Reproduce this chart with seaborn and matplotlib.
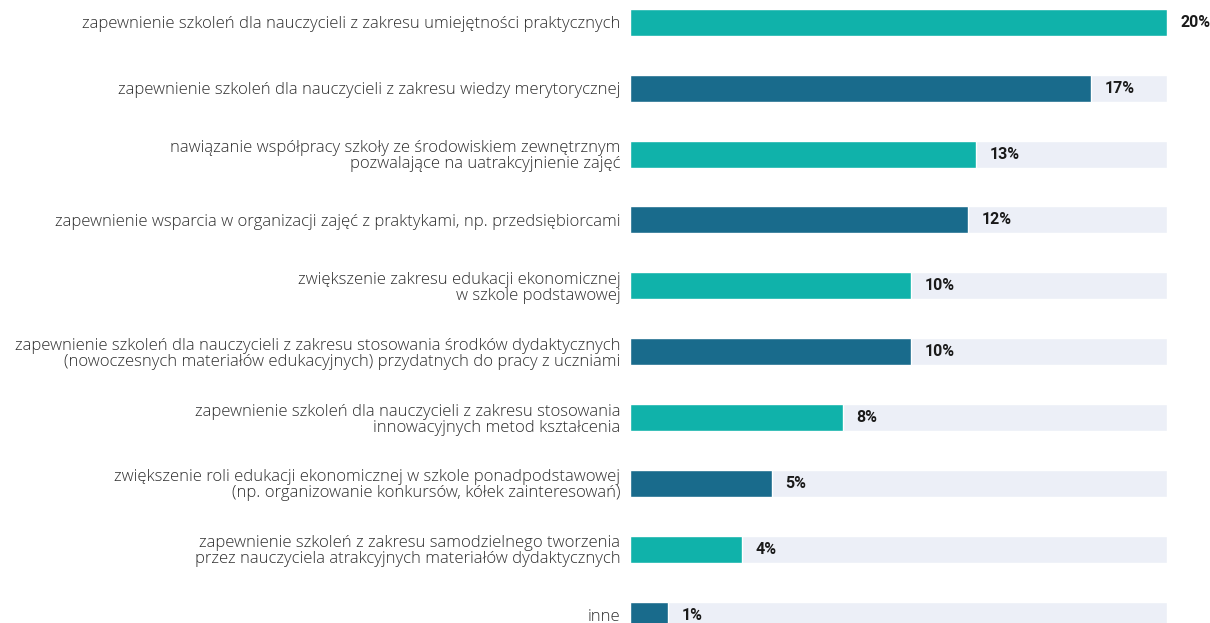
import matplotlib
matplotlib.use("Agg")
import matplotlib.pyplot as plt
import seaborn as sns
import pandas as pd

categories = [
    "zapewnienie szkoleń dla nauczycieli z zakresu umiejętności praktycznych",
    "zapewnienie szkoleń dla nauczycieli z zakresu wiedzy merytorycznej",
    "nawiązanie współpracy szkoły ze środowiskiem zewnętrznym\npozwalające na uatrakcyjnienie zajęć",
    "zapewnienie wsparcia w organizacji zajęć z praktykami, np. przedsiębiorcami",
    "zwiększenie zakresu edukacji ekonomicznej\nw szkole podstawowej",
    "zapewnienie szkoleń dla nauczycieli z zakresu stosowania środków dydaktycznych\n(nowoczesnych materiałów edukacyjnych) przydatnych do pracy z uczniami",
    "zapewnienie szkoleń dla nauczycieli z zakresu stosowania\ninnowacyjnych metod kształcenia",
    "zwiększenie roli edukacji ekonomicznej w szkole ponadpodstawowej\n(np. organizowanie konkursów, kółek zainteresowań)",
    "zapewnienie szkoleń z zakresu samodzielnego tworzenia\nprzez nauczyciela atrakcyjnych materiałów dydaktycznych",
    "inne",
]
values = [19.7, 16.9, 12.7, 12.4, 10.3, 10.3, 7.8, 5.2, 4.1, 1.4]

TEAL = "#10B2AA"
NAVY = "#196B8C"
TRACK = "#ECEFF7"
bar_colors = [TEAL if i % 2 == 0 else NAVY for i in range(len(categories))]

scale_max = max(values)
df = pd.DataFrame({"category": categories, "value": values})
df["track"] = scale_max

sns.set_theme(style="white")
plt.rcParams["font.family"] = ["Open Sans", "DejaVu Sans"]

fig = plt.figure(figsize=(12.10, 6.23), dpi=100)
ax = fig.add_axes([630 / 1210, 0.0, (1167 - 630) / 1210, 1.0])

# light background track behind every bar, then the values on top
sns.barplot(data=df, y="category", x="track", color=TRACK, width=0.41,
            orient="h", ax=ax, saturation=1)
sns.barplot(data=df, y="category", x="value", hue="category",
            palette=bar_colors, width=0.41, orient="h", ax=ax,
            saturation=1, legend=False)

ax.set_xlim(0, scale_max)
ax.set_ylim(9.12, -0.34)
ax.set_xlabel("")
ax.set_ylabel("")
ax.set_xticks([])
for s in ax.spines.values():
    s.set_visible(False)

ax.tick_params(axis="y", length=0, pad=7)
for lab in ax.get_yticklabels():
    lab.set_fontsize(12)
    lab.set_fontweight("light")
    lab.set_color("#2e2e2e")
    lab.set_multialignment("right")
    lab.set_linespacing(1.0)

for i, v in enumerate(values):
    ax.annotate(f"{v:.0f}%", xy=(v, i), xytext=(10, 0),
                textcoords="offset points", va="center", ha="left",
                fontsize=11.5, fontweight="bold", color="#1a1a1a",
                family=["Roboto", "DejaVu Sans"])

fig.savefig("out.png", dpi=100)
